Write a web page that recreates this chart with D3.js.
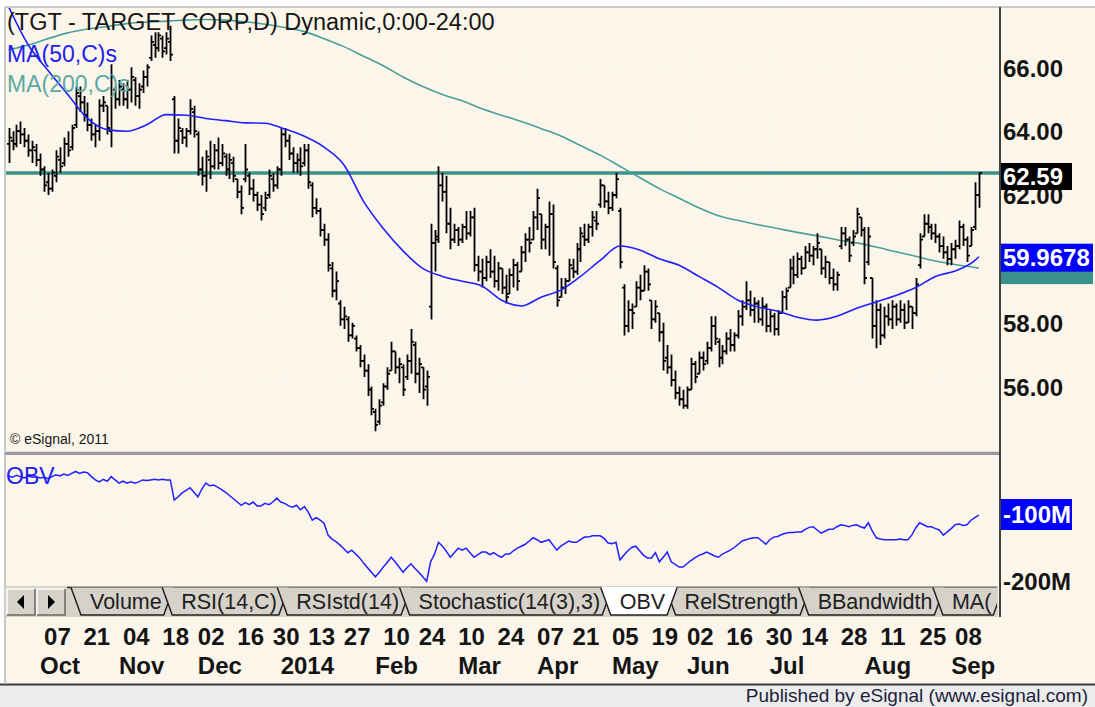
<!DOCTYPE html>
<meta charset="utf-8">
<style>
body { margin: 0; background: #fff; }
svg { display: block; font-family: Arial, "Liberation Sans", sans-serif; }
.axis-num { font-size: 24px; font-weight: bold; fill: #141414; }
.date-lbl { font-size: 24px; font-weight: bold; fill: #141414; }
.tab-lbl { font-size: 21.5px; fill: #202020; }
.grid { stroke: #fff; stroke-width: 1; stroke-dasharray: 1,4; }
</style>
<body>
<script src="https://d3js.org/d3.v7.min.js"></script>
<script>
var W = 1095, H = 707;

// daily bars, first bar 2013-09-23
var opens = [
  63.5,63.6,63.5,63.9,63.8,63.6,63.3,63.3,63.0,62.7,
  62.3,62.1,62.5,63.0,62.9,63.5,63.4,64.1,65.0,64.8,
  64.4,64.1,63.8,63.9,64.7,64.7,63.9,65.2,64.9,65.2,
  64.9,65.2,65.5,65.0,65.3,65.6,66.2,66.6,66.5,66.8,
  66.5,66.7,64.9,63.6,63.9,63.7,63.9,64.5,63.8,62.7,
  62.5,63.0,62.8,63.3,62.9,63.1,62.7,62.9,62.4,62.0,
  62.4,62.5,62.1,61.9,61.6,61.5,61.9,62.4,62.2,62.7,
  63.8,63.6,63.2,62.9,63.0,62.9,63.3,62.2,61.5,61.4,
  60.8,60.5,59.6,58.9,58.5,58.0,58.0,57.5,57.4,57.1,
  56.7,56.4,55.8,55.1,54.8,55.4,55.9,56.4,57.0,56.5,
  56.5,56.2,56.7,57.2,56.3,56.5,55.9,58.4,60.4,60.6,
  62.2,62.0,61.0,60.5,60.8,60.5,60.9,60.7,61.2,59.7,
  59.5,59.3,59.8,59.5,59.2,59.6,59.0,58.8,59.4,59.7,
  59.5,60.1,60.5,60.5,61.2,61.3,60.5,60.9,61.3,59.6,
  58.7,59.0,59.2,59.6,59.5,60.2,60.6,60.5,60.9,61.1,
  61.6,62.2,61.7,61.5,61.9,61.4,59.0,57.8,58.3,58.4,
  59.0,58.9,59.5,58.6,58.0,58.2,57.6,56.8,56.5,56.1,
  55.7,55.5,55.3,55.8,56.6,56.3,56.8,56.7,57.1,57.8,
  57.3,56.8,57.0,57.4,57.2,57.5,58.1,58.4,58.6,58.3,
  58.5,58.0,58.4,57.8,58.1,57.7,58.2,58.7,59.0,59.6,
  59.4,59.9,59.6,60.1,60.0,60.2,60.2,59.6,59.8,59.3,
  59.1,60.3,60.7,60.5,60.4,60.7,61.2,60.8,59.8,59.3,
  57.8,58.3,57.5,58.1,58.0,58.4,58.0,58.3,57.9,58.4,
  58.2,59.7,60.6,61.0,60.9,60.7,60.6,60.3,60.1,59.9,
  60.2,60.3,60.9,60.5,60.3,60.9,61.9
];
var highs = [
  64.0,63.9,64.1,64.2,64.0,63.8,63.6,63.5,63.2,62.8,
  62.6,62.7,63.3,63.4,63.7,63.9,64.1,65.3,65.3,65.0,
  64.8,64.3,64.1,64.9,65.0,64.7,66.0,65.3,65.5,65.4,
  65.5,65.9,65.6,65.4,65.8,66.0,66.9,67.0,67.0,66.9,
  67.0,67.2,65.0,64.3,64.0,64.0,64.9,64.7,63.9,63.1,
  63.3,63.6,63.5,63.7,63.5,63.2,63.2,63.1,62.4,62.2,
  63.5,62.6,62.4,62.0,61.9,62.0,62.7,62.6,62.8,64.0,
  64.0,63.8,63.4,63.2,63.4,63.5,63.5,62.3,61.8,61.5,
  61.0,60.7,59.8,59.5,58.6,58.4,58.1,57.9,57.5,57.2,
  56.9,56.6,55.9,55.2,55.5,56.0,56.5,57.3,57.0,56.8,
  56.6,56.9,57.7,57.3,56.8,56.5,56.4,61.0,60.8,62.8,
  62.6,62.5,61.5,61.0,60.9,61.0,61.4,61.4,61.5,60.0,
  59.9,60.0,60.2,60.0,59.8,59.6,59.4,59.6,59.9,59.8,
  60.3,60.7,60.9,61.4,62.1,61.3,61.0,61.7,61.6,59.7,
  59.3,59.3,59.9,59.9,60.4,60.9,61.0,61.0,61.4,61.4,
  62.4,62.2,62.0,62.0,62.6,61.5,59.1,58.6,58.5,59.2,
  59.4,59.7,59.6,58.6,58.6,58.2,57.9,57.2,56.9,56.4,
  55.9,55.8,55.9,56.8,56.7,57.0,57.0,57.3,58.1,58.1,
  57.4,57.2,57.6,57.7,57.6,58.3,58.6,59.2,58.9,58.7,
  58.6,58.7,58.5,58.3,58.2,58.3,58.9,59.0,59.9,60.0,
  60.1,60.0,60.3,60.4,60.3,60.7,60.2,60.0,59.8,59.6,
  59.5,60.9,60.9,60.6,60.8,61.5,61.2,60.9,60.9,59.3,
  58.6,58.5,58.4,58.5,58.6,58.5,58.6,58.5,58.6,58.4,
  59.3,60.7,61.3,61.3,61.0,61.0,60.7,60.6,60.3,60.4,
  60.5,61.1,61.0,60.6,60.9,62.3,62.6
];
var lows = [
  62.9,63.3,63.4,63.5,63.4,63.1,62.9,62.8,62.5,62.0,
  61.9,62.0,62.3,62.6,62.8,63.1,63.3,64.0,64.5,64.2,
  63.9,63.6,63.4,63.6,64.5,63.8,63.4,64.6,64.7,64.7,
  64.6,64.8,64.7,64.6,65.1,65.3,66.1,66.2,66.4,66.2,
  66.3,66.1,63.2,63.2,63.5,63.4,63.8,63.7,62.5,62.2,
  62.0,62.4,62.7,62.7,62.8,62.5,62.4,62.3,61.8,61.3,
  62.3,61.9,61.7,61.4,61.1,61.4,61.8,62.0,62.1,62.5,
  63.4,63.0,62.6,62.6,62.5,62.8,62.1,61.2,61.3,60.6,
  60.3,59.5,58.7,58.6,57.8,57.7,57.3,57.4,57.0,56.5,
  56.2,55.6,55.0,54.5,54.7,55.3,55.8,56.4,56.3,56.0,
  55.6,56.1,56.3,56.0,55.7,55.5,55.3,58.0,59.5,60.4,
  61.7,60.7,60.2,60.4,60.3,60.4,60.5,60.6,59.5,59.2,
  59.0,59.2,59.3,59.0,58.9,58.8,58.5,58.8,59.0,58.9,
  59.5,59.8,60.1,60.5,60.8,60.2,60.2,60.0,59.6,58.4,
  58.7,58.8,59.2,59.3,59.4,59.8,60.3,60.4,60.6,60.8,
  61.5,61.5,61.3,61.4,61.8,59.6,57.5,57.6,57.7,58.4,
  58.6,58.9,58.9,57.7,57.9,57.3,56.4,56.3,55.9,55.5,
  55.3,55.2,55.2,55.8,56.0,56.3,56.4,56.6,57.0,57.2,
  56.5,56.6,56.9,57.0,57.0,57.4,57.8,58.3,58.1,57.9,
  57.9,57.8,57.6,57.6,57.5,57.5,58.2,58.3,59.0,59.1,
  59.3,59.4,59.6,59.8,59.7,59.9,59.4,59.3,59.1,58.9,
  58.9,60.2,60.3,59.8,60.3,60.7,60.6,59.1,59.7,57.4,
  57.1,57.2,57.4,57.8,57.7,57.8,57.9,57.7,57.9,57.7,
  58.1,59.6,60.6,60.7,60.5,60.4,60.1,59.9,59.7,59.7,
  59.9,60.2,60.3,59.8,60.3,60.8,61.5
];
var closes = [
  63.7,63.5,63.9,63.8,63.6,63.3,63.4,63.0,62.7,62.2,
  62.1,62.6,63.1,62.8,63.5,63.3,64.0,65.1,64.8,64.4,
  64.1,63.8,63.9,64.7,64.8,64.0,65.6,64.9,65.3,64.9,
  65.2,65.6,65.0,65.2,65.6,65.9,66.7,66.5,66.9,66.4,
  66.8,66.3,63.6,64.0,63.7,63.9,64.6,63.9,62.7,62.5,
  63.1,62.8,63.3,62.9,63.2,62.7,63.0,62.5,62.0,61.5,
  62.7,62.1,61.9,61.6,61.3,61.8,62.5,62.2,62.7,63.8,
  63.6,63.2,62.9,63.0,62.8,63.3,62.3,61.5,61.4,60.8,
  60.5,59.7,58.9,59.2,58.0,58.1,57.5,57.8,57.1,56.7,
  56.4,55.8,55.2,54.7,55.3,55.9,56.3,57.0,56.5,56.6,
  55.8,56.7,57.3,56.3,56.6,55.8,56.2,60.4,60.5,62.2,
  62.0,61.0,60.5,60.8,60.5,60.9,60.7,61.2,59.7,59.5,
  59.3,59.8,59.5,59.2,59.6,59.0,58.7,59.4,59.7,59.2,
  60.1,60.5,60.4,61.2,61.8,60.5,60.9,61.3,59.8,58.6,
  59.0,59.2,59.7,59.5,60.2,60.7,60.5,60.9,61.2,61.0,
  62.2,61.7,61.5,61.9,62.4,59.8,57.8,58.3,58.2,59.0,
  58.9,59.5,59.1,58.0,58.4,57.6,56.7,56.5,56.1,55.7,
  55.5,55.3,55.8,56.6,56.2,56.8,56.6,57.1,57.8,57.4,
  56.8,57.0,57.4,57.2,57.5,58.1,58.4,58.6,58.3,58.5,
  58.0,58.4,57.8,58.1,57.7,58.2,58.7,58.9,59.6,59.4,
  59.9,59.6,60.1,60.0,60.2,60.4,59.6,59.8,59.3,59.1,
  59.4,60.7,60.5,60.0,60.6,61.3,60.8,59.3,60.6,57.8,
  58.3,57.5,58.1,58.0,58.4,58.0,58.3,57.9,58.4,58.2,
  59.1,60.5,61.0,60.9,60.7,60.6,60.3,60.1,59.9,60.2,
  60.3,60.9,60.5,60.0,60.8,61.9,62.59
];
// on-balance volume, millions
var obv = [
  -40,-42,-39,-41,-43,-40,-42,-41,-43,-42,
  -44,-41,-38,-40,-37,-39,-36,-33,-36,-34,
  -35,-41,-46,-49,-45,-48,-41,-46,-51,-48,
  -51,-49,-51,-49,-46,-47,-46,-45,-46,-45,
  -46,-46,-77,-72,-66,-62,-58,-65,-72,-60,
  -51,-55,-54,-57,-61,-65,-70,-75,-80,-85,
  -81,-84,-80,-86,-86,-82,-84,-80,-74,-80,
  -82,-86,-88,-85,-92,-87,-96,-108,-104,-108,
  -113,-131,-137,-141,-146,-152,-158,-154,-160,-166,
  -174,-181,-188,-195,-188,-180,-173,-165,-172,-180,
  -188,-181,-175,-182,-188,-195,-202,-172,-160,-142,
  -148,-156,-165,-158,-151,-154,-151,-158,-165,-161,
  -157,-157,-161,-158,-162,-165,-160,-160,-155,-151,
  -148,-145,-140,-135,-138,-142,-140,-138,-146,-154,
  -148,-144,-140,-142,-142,-138,-134,-134,-132,-132,
  -132,-136,-143,-144,-142,-169,-162,-155,-150,-148,
  -155,-162,-166,-166,-158,-172,-165,-157,-172,-176,
  -180,-180,-175,-170,-166,-162,-160,-157,-160,-163,
  -165,-160,-157,-154,-150,-145,-140,-138,-136,-135,
  -135,-140,-145,-138,-134,-133,-130,-128,-127,-127,
  -126,-126,-122,-119,-118,-123,-128,-125,-122,-122,
  -118,-115,-116,-118,-116,-115,-118,-120,-112,-125,
  -135,-137,-138,-138,-138,-138,-137,-138,-138,-131,
  -120,-112,-115,-118,-118,-121,-123,-131,-126,-121,
  -115,-114,-116,-115,-108,-104,-100
];
// moving averages read every 5th bar
var maBars = [0,5,10,15,20,25,30,35,40,45,50,55,60,65,70,75,80,85,90,95,100,105,110,115,120,
  125,130,135,140,145,150,155,160,165,170,175,180,185,190,195,200,205,210,215,220,225,230,235,240,245,246];
var ma50 = [67.8,66.6,65.8,65.05,64.3,63.95,63.9,64.1,64.42,64.4,64.3,64.23,64.16,64.15,63.97,63.74,63.4,62.85,61.7,60.85,
  60.15,59.6,59.35,59.2,59.05,58.6,58.42,58.7,58.92,59.35,59.85,60.3,60.18,59.9,59.7,59.35,59.0,58.6,58.39,58.26,
  58.07,57.98,58.1,58.35,58.55,58.75,59.0,59.35,59.52,59.85,59.9678];
var ma200 = [66.45,66.6,66.8,66.98,67.1,67.18,67.27,67.32,67.35,67.38,67.4,67.38,67.33,67.25,67.15,67.02,66.8,66.55,66.25,65.95,
  65.6,65.3,65.05,64.85,64.6,64.4,64.2,63.98,63.75,63.45,63.15,62.8,62.45,62.1,61.8,61.5,61.25,61.1,60.97,60.85,
  60.73,60.62,60.5,60.4,60.27,60.12,59.98,59.83,59.72,59.63,59.61];

var lastPrice = 62.59;
var priceTicks = [56, 58, 62, 64, 66];   // 60.00 sits under the MA label box
var gridTicks = [56, 58, 60, 62, 64, 66];
var holidays = ["2013-11-28","2013-12-25","2014-01-01","2014-01-20","2014-02-17","2014-04-18","2014-05-26","2014-07-04","2014-09-01"];
var tickDates = ["2013-10-07","2013-10-21","2013-11-04","2013-11-18","2013-12-02","2013-12-16","2013-12-30","2014-01-13",
  "2014-01-27","2014-02-10","2014-02-24","2014-03-10","2014-03-24","2014-04-07","2014-04-21","2014-05-05","2014-05-19",
  "2014-06-02","2014-06-16","2014-06-30","2014-07-14","2014-07-28","2014-08-11","2014-08-25","2014-09-08"];
var monthNames = ["Oct","Nov","Dec","2014","Feb","Mar","Apr","May","Jun","Jul","Aug","Sep"];
var monthLabelDates = ["2013-10-04","2013-11-01","2013-12-02","2014-01-02","2014-02-06","2014-03-10","2014-04-07",
  "2014-05-05","2014-06-02","2014-07-01","2014-08-05","2014-09-05"];
var tabs = ["Volume","RSI(14,C)","RSIstd(14)","Stochastic(14(3),3)","OBV","RelStrength","BBandwidth","MA("];
var activeTab = "OBV";

var n = closes.length;
[opens, highs, lows, obv].forEach(function(a){ if (a.length !== n) throw new Error("length " + a.length + " vs " + n); });

var fmt = d3.timeFormat("%Y-%m-%d");
var days = d3.timeDay.range(new Date(2013, 8, 23), new Date(2014, 8, 16))
  .filter(function(d){ return d.getDay() % 6 !== 0 && holidays.indexOf(fmt(d)) < 0; });
if (days.length !== n) throw new Error("days " + days.length);
var dayIndex = {};
days.forEach(function(d, i){ dayIndex[fmt(d)] = i; });

var x = d3.scaleLinear().domain([0, n - 1]).range([8.6, 8.6 + 3.944 * (n - 1)]);
var yP = d3.scaleLinear().domain([53.91, 67.76]).range([450, 8]);
var yO = d3.scaleLinear().domain([-204.6, -12.3]).range([583, 458]);

var svg = d3.select("body").append("svg").attr("width", W).attr("height", H);

// frame
svg.append("rect").attr("x", 0).attr("y", 0).attr("width", W).attr("height", H).attr("fill", "#fff");
svg.append("rect").attr("x", 5).attr("y", 7).attr("width", W - 5).attr("height", 677).attr("fill", "#fcf6ea");
svg.append("rect").attr("x", 0).attr("y", 684).attr("width", W).attr("height", H - 684).attr("fill", "#ececec");
svg.append("line").attr("x1", 0).attr("x2", W).attr("y1", 684.5).attr("y2", 684.5).attr("stroke", "#3a3a3a").attr("stroke-width", 2);
svg.append("line").attr("x1", 5).attr("x2", W).attr("y1", 7).attr("y2", 7).attr("stroke", "#c8c8c8").attr("stroke-width", 2);
svg.append("line").attr("x1", 5).attr("x2", 5).attr("y1", 7).attr("y2", 684).attr("stroke", "#c8c8c8").attr("stroke-width", 2);

var defs = svg.append("defs");
defs.append("clipPath").attr("id", "clipMain").append("rect").attr("x", 6).attr("y", 8).attr("width", 994).attr("height", 443);
defs.append("clipPath").attr("id", "clipObv").append("rect").attr("x", 6).attr("y", 456).attr("width", 994).attr("height", 129);
defs.append("clipPath").attr("id", "clipTabs").append("rect").attr("x", 5).attr("y", 580).attr("width", 992).attr("height", 40);

// grid
var monthStarts = [];
days.forEach(function(d, i){ if (i === 0 || d.getMonth() !== days[i - 1].getMonth()) monthStarts.push(i); });
var grid = svg.append("g");
grid.selectAll(".hg").data(gridTicks).enter().append("line").attr("class", "grid")
  .attr("x1", 6).attr("x2", 1000).attr("y1", function(d){ return yP(d); }).attr("y2", function(d){ return yP(d); });
grid.selectAll(".vg").data(monthStarts.slice(1)).enter().append("line").attr("class", "grid")
  .attr("x1", function(d){ return x(d); }).attr("x2", function(d){ return x(d); }).attr("y1", 8).attr("y2", 450);
grid.selectAll(".vg2").data(monthStarts.slice(1)).enter().append("line").attr("class", "grid")
  .attr("x1", function(d){ return x(d); }).attr("x2", function(d){ return x(d); }).attr("y1", 457).attr("y2", 583);
grid.append("line").attr("class", "grid").attr("x1", 6).attr("x2", 1000).attr("y1", yO(-100)).attr("y2", yO(-100));

// main panel
var main = svg.append("g").attr("clip-path", "url(#clipMain)");
main.append("line").attr("x1", 6).attr("x2", 1000).attr("y1", yP(lastPrice)).attr("y2", yP(lastPrice))
  .attr("stroke", "#3b918b").attr("stroke-width", 3.5);

var maLine = d3.line().x(function(d){ return x(d[0]); }).y(function(d){ return yP(d[1]); }).curve(d3.curveMonotoneX);
main.append("path").datum(maBars.map(function(b, k){ return [b, ma200[k]]; }))
  .attr("d", maLine).attr("fill", "none").attr("stroke", "#4a9f98").attr("stroke-width", 1.6);

main.append("g").selectAll("path").data(d3.range(n)).enter().append("path")
  .attr("d", function(i){
    var cx = Math.round(x(i)) + 0.5;
    return "M" + cx + "," + yP(highs[i]) + "V" + yP(lows[i]) +
      "M" + (cx - 2.5) + "," + yP(opens[i]) + "H" + cx +
      "M" + cx + "," + yP(closes[i]) + "H" + (cx + 2.5);
  })
  .attr("fill", "none").attr("stroke", "#000").attr("stroke-width", 1.8);

main.append("path").datum(maBars.map(function(b, k){ return [b, ma50[k]]; }))
  .attr("d", maLine).attr("fill", "none").attr("stroke", "#1f1fff").attr("stroke-width", 1.6);

// main titles
svg.append("text").attr("x", 7).attr("y", 30).attr("font-size", 23.5).attr("fill", "#161616")
  .text("(TGT - TARGET CORP,D) Dynamic,0:00-24:00");
svg.append("text").attr("x", 7).attr("y", 62).attr("font-size", 23).attr("fill", "#2121f0").text("MA(50,C)s");
svg.append("text").attr("x", 7).attr("y", 92).attr("font-size", 23).attr("fill", "#5aa9a2").text("MA(200,C)s");
svg.append("text").attr("x", 10).attr("y", 444).attr("font-size", 14).attr("fill", "#161616").text("\u00a9 eSignal, 2011");

// panel separator
svg.append("rect").attr("x", 5).attr("y", 451).attr("width", 995).attr("height", 4).attr("fill", "#9a9a9a");
svg.append("line").attr("x1", 5).attr("x2", 1000).attr("y1", 451.5).attr("y2", 451.5).attr("stroke", "#e0e0e0");

// OBV panel
var obvG = svg.append("g").attr("clip-path", "url(#clipObv)");
obvG.append("path").datum(obv)
  .attr("d", d3.line().x(function(d, i){ return x(i); }).y(function(d){ return yO(d); }))
  .attr("fill", "none").attr("stroke", "#1f1fff").attr("stroke-width", 1.5);
svg.append("text").attr("x", 6).attr("y", 484).attr("font-size", 23).attr("fill", "#2121f0").text("OBV");

// right axis
svg.append("line").attr("x1", 1000).attr("x2", 1000).attr("y1", 7).attr("y2", 617).attr("stroke", "#404040").attr("stroke-width", 2);
var ax = svg.append("g");
ax.selectAll("text").data(priceTicks).enter().append("text").attr("class", "axis-num")
  .attr("x", 1003).attr("y", function(d){ return yP(d) + 4; }).attr("dominant-baseline", "central")
  .text(function(d){ return d3.format(".2f")(d); });

function box(txt, fill, y0, y1, wdt) {
  ax.append("rect").attr("x", 1001).attr("y", y0).attr("width", wdt).attr("height", y1 - y0).attr("fill", fill);
  if (txt) ax.append("text").attr("class", "axis-num").attr("x", 1003).attr("y", (y0 + y1) / 2)
    .attr("dominant-baseline", "central").style("fill", "#fff").text(txt);
}
var last200 = ma200[ma200.length - 1], last50 = ma50[ma50.length - 1];
box(null, "#3b918b", yP(last200) - 6, yP(last200) + 16, 92);   // MA(200) label, hidden behind MA(50)
box(d3.format(".4f")(last50), "#0000ff", yP(last50) - 13, yP(last50) + 15, 92);
box(d3.format(".2f")(lastPrice), "#000", yP(lastPrice) - 10, yP(lastPrice) + 17, 71);
box("-100M", "#0000ff", yO(obv[n - 1]) - 16, yO(obv[n - 1]) + 15, 71);
ax.append("text").attr("class", "axis-num").attr("x", 1003).attr("y", yO(-200) + 1)
  .attr("dominant-baseline", "central").text("-200M");

// tab strip
var tabsG = svg.append("g");
tabsG.append("rect").attr("x", 5).attr("y", 586).attr("width", 993).attr("height", 31).attr("fill", "#d6d2ca");
[[7, -1], [37, 1]].forEach(function(b){
  var bx = b[0];
  tabsG.append("rect").attr("x", bx).attr("y", 589).attr("width", 28).attr("height", 26).attr("fill", "#d6d2ca");
  tabsG.append("path").attr("d", "M" + bx + "," + 615 + "V589H" + (bx + 28)).attr("fill", "none").attr("stroke", "#fff").attr("stroke-width", 1.5);
  tabsG.append("path").attr("d", "M" + bx + "," + 615 + "H" + (bx + 28) + "V589").attr("fill", "none").attr("stroke", "#6a6a6a").attr("stroke-width", 1.5);
  var cx = bx + 14, cy = 602;
  tabsG.append("path").attr("d", b[1] < 0 ?
      "M" + (cx - 4) + "," + cy + "L" + (cx + 3) + "," + (cy - 7) + "V" + (cy + 7) + "Z" :
      "M" + (cx + 4) + "," + cy + "L" + (cx - 3) + "," + (cy - 7) + "V" + (cy + 7) + "Z")
    .attr("fill", "#000");
});
var tabLayer = tabsG.append("g").attr("clip-path", "url(#clipTabs)");
tabLayer.append("line").attr("x1", 67).attr("x2", 998).attr("y1", 587.5).attr("y2", 587.5).attr("stroke", "#333").attr("stroke-width", 1.5);
var tx = 71, slant = 10, tabShapes = [];
var measure = tabLayer.append("text").attr("class", "tab-lbl").attr("x", -500).attr("y", -500);
tabs.forEach(function(t){
  measure.text(t);
  var tw = measure.node().getComputedTextLength();
  tabShapes.push({ label: t, x0: tx, x1: tx + 19 + tw + 12, tw: tw });
  tx = tx + 19 + tw + 0.5;
});
measure.remove();
function drawTab(s) {
  var active = s.label === activeTab;
  var top = 587.5, bot = 615;
  tabLayer.append("path")
    .attr("d", "M" + s.x0 + "," + top + "L" + (s.x0 + slant) + "," + bot + "H" + (s.x1 - slant) + "L" + s.x1 + "," + top)
    .attr("fill", active ? "#fff" : "#d6d2ca").attr("stroke", "#222").attr("stroke-width", 1.5);
  if (active) tabLayer.append("line").attr("x1", s.x0 + 1).attr("x2", s.x1 - 1).attr("y1", top).attr("y2", top)
    .attr("stroke", "#fff").attr("stroke-width", 2);
  tabLayer.append("text").attr("class", "tab-lbl").attr("x", s.x0 + 19).attr("y", 609).text(s.label);
}
tabShapes.filter(function(s){ return s.label !== activeTab; }).forEach(drawTab);
tabShapes.filter(function(s){ return s.label === activeTab; }).forEach(drawTab);

// date axis
var dAx = svg.append("g");
dAx.selectAll(".tk").data(tickDates).enter().append("text").attr("class", "date-lbl")
  .attr("x", function(d){ return x(dayIndex[d]) - 4; }).attr("y", 645)
  .text(function(d){ return d.slice(8); });
dAx.selectAll(".mo").data(monthLabelDates).enter().append("text").attr("class", "date-lbl")
  .attr("x", function(d){ return x(dayIndex[d]) - 4; }).attr("y", 674)
  .text(function(d, k){ return monthNames[k]; });

svg.append("text").attr("x", 1088).attr("y", 702).attr("text-anchor", "end").attr("font-size", 19)
  .attr("fill", "#1e1e3c").text("Published by eSignal (www.esignal.com)");
</script>
</body>
